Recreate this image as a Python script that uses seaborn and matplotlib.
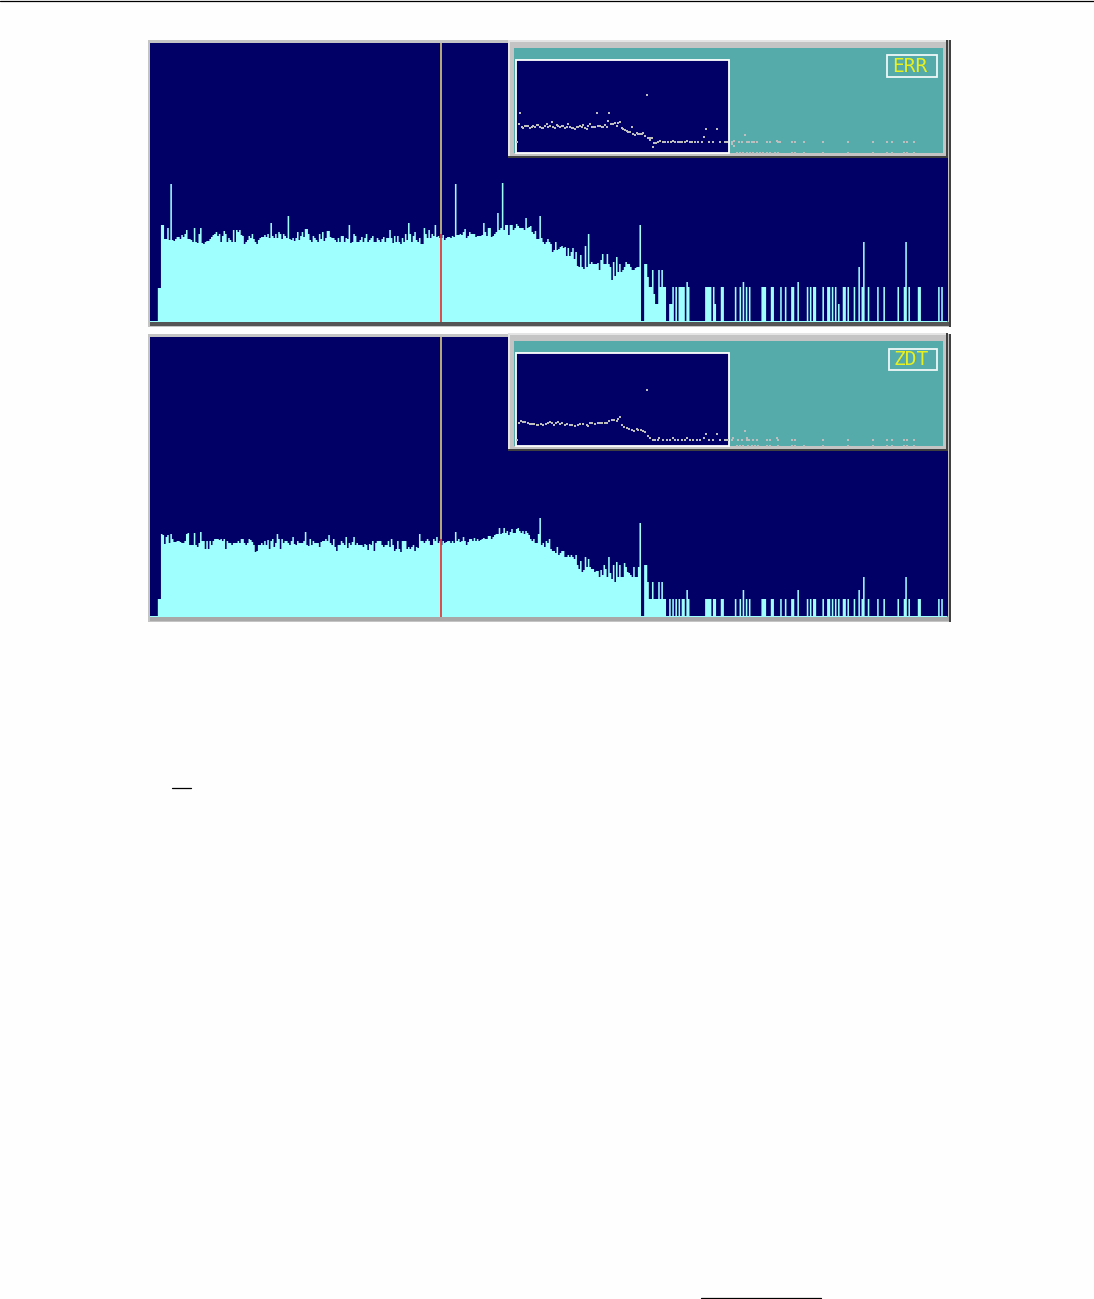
import matplotlib
matplotlib.use('Agg')
import matplotlib.pyplot as plt
from matplotlib.patches import Rectangle
import seaborn as sns
import numpy as np
import pandas as pd

W, H = 1094, 1299
N_BINS = 510
MARK_BIN = 185.6

NAVY = '#000066'
CYAN = '#9FFFFF'
TEAL = '#55AAAA'

# bar heights for bins 5.. of the top panel (ERR)
err_start = [34, 34]
err_dense = [
    97, 97, 83, 83, 94, 82, 138, 82, 81, 83,
    85, 85, 83, 87, 85, 88, 92, 83, 83, 82,
    80, 94, 80, 79, 88, 94, 79, 78, 80, 81,
    81, 83, 85, 87, 88, 90, 86, 88, 80, 86,
    91, 88, 80, 84, 82, 80, 92, 80, 92, 90,
    92, 87, 86, 78, 80, 82, 86, 84, 88, 83,
    80, 78, 82, 84, 85, 85, 87, 85, 88, 84,
    99, 86, 84, 88, 84, 90, 88, 83, 88, 86,
    84, 106, 83, 82, 84, 81, 84, 90, 82, 86,
    90, 85, 93, 93, 88, 82, 80, 86, 84, 82,
    80, 88, 83, 90, 81, 84, 91, 91, 85, 84,
    84, 82, 80, 84, 80, 86, 86, 80, 84, 83,
    97, 79, 80, 88, 86, 80, 80, 82, 85, 80,
    84, 88, 80, 82, 84, 86, 80, 80, 84, 82,
    80, 83, 85, 80, 84, 84, 92, 84, 79, 86,
    80, 86, 80, 78, 84, 80, 88, 82, 99, 88,
    80, 86, 90, 82, 80, 84, 78, 78, 94, 88,
    84, 92, 84, 88, 86, 97, 85, 86, 84, 84,
    87, 82, 84, 85, 85, 84, 86, 85, 138, 87,
    87, 88, 87, 90, 93, 84, 86, 90, 88, 88,
    88, 85, 86, 86, 86, 87, 99, 90, 86, 94,
    94, 85, 86, 88, 90, 109, 92, 94, 139, 92,
    97, 97, 87, 97, 97, 92, 94, 98, 96, 94,
    94, 94, 92, 104, 94, 95, 96, 90, 88, 91,
    83, 83, 106, 84, 80, 78, 80, 83, 80, 78,
    70, 72, 80, 72, 73, 75, 76, 74, 75, 66,
    74, 66, 70, 74, 63, 70, 56, 55, 67, 55,
    53, 76, 55, 88, 58, 60, 58, 58, 58, 59,
    52, 62, 68, 58, 58, 68, 58, 55, 42, 60,
    46, 65, 50, 58, 50, 52, 55, 60, 58, 58,
    55, 52, 52, 54, 55, 55, 97,
]
err_tail_bins = [316, 317, 318, 319, 320, 321, 322, 323, 324, 325, 326, 327, 328, 329,
                 332, 333, 334, 336, 338, 339, 340, 341, 343, 344,
                 355, 356, 357, 358, 360, 361, 365, 366, 374, 377, 379, 381, 383,
                 391, 392, 393, 397, 398, 403, 406, 410, 411, 414, 420, 422, 424, 425,
                 430, 433, 434, 436, 438, 440, 443, 444, 446, 450, 453, 455, 456, 459,
                 465, 469, 478, 482, 483, 485, 491, 492, 504, 506]
err_tail = [58, 58, 45, 35, 35, 52, 28, 18, 18, 52, 35, 52, 35, 35,
            18, 18, 35, 35, 35, 35, 35, 35, 40, 35,
            35, 35, 35, 35, 35, 18, 35, 35, 35, 35, 40, 35, 35,
            35, 35, 35, 35, 35, 35, 35, 35, 35, 40, 35, 35, 35, 35,
            35, 35, 35, 35, 35, 18, 35, 35, 35, 35, 55, 35, 80, 35,
            35, 35, 35, 35, 80, 35, 35, 35, 35, 35]

# bar heights of the bottom panel (ZDT)
zdt_start = [18, 18]
zdt_dense = [
    83, 82, 73, 80, 82, 74, 83, 78, 75, 75,
    76, 76, 75, 74, 74, 76, 83, 84, 72, 72,
    72, 84, 72, 70, 74, 85, 76, 76, 68, 76,
    68, 76, 72, 76, 78, 78, 78, 77, 78, 76,
    78, 68, 76, 74, 74, 72, 74, 74, 74, 76,
    74, 78, 78, 74, 72, 74, 78, 77, 75, 72,
    65, 66, 72, 72, 74, 72, 76, 72, 77, 68,
    76, 78, 70, 74, 83, 78, 68, 78, 74, 76,
    76, 74, 72, 76, 80, 73, 72, 76, 74, 74,
    74, 76, 85, 72, 71, 78, 72, 76, 74, 74,
    74, 70, 75, 76, 76, 78, 76, 82, 74, 72,
    78, 70, 66, 72, 72, 76, 74, 72, 80, 69,
    74, 72, 75, 80, 72, 74, 72, 72, 72, 70,
    73, 72, 67, 73, 72, 76, 66, 74, 76, 76,
    76, 72, 70, 72, 72, 76, 70, 78, 72, 66,
    68, 76, 68, 65, 76, 76, 76, 68, 70, 68,
    70, 72, 66, 70, 69, 83, 76, 76, 74, 76,
    78, 76, 72, 72, 78, 76, 80, 74, 76, 72,
    76, 74, 75, 76, 76, 74, 76, 74, 85, 76,
    78, 75, 76, 80, 76, 72, 75, 78, 78, 76,
    79, 76, 78, 76, 77, 78, 79, 78, 78, 81,
    81, 78, 80, 82, 83, 83, 89, 83, 84, 89,
    84, 86, 82, 85, 88, 84, 84, 88, 89, 86,
    84, 86, 83, 86, 84, 82, 78, 76, 78, 74,
    74, 83, 99, 72, 74, 70, 76, 74, 78, 68,
    66, 66, 64, 70, 62, 64, 66, 66, 60, 60,
    62, 60, 62, 60, 58, 62, 52, 48, 56, 45,
    47, 60, 50, 58, 50, 48, 48, 45, 46, 46,
    40, 47, 42, 52, 48, 40, 60, 44, 38, 52,
    35, 55, 40, 52, 40, 40, 54, 50, 45, 44,
    42, 40, 50, 40, 40, 50, 94,
]
zdt_tail_bins = [316, 317, 318, 319, 320, 321, 322, 323, 324, 325, 326, 327, 328, 329,
                 332, 334, 336, 338, 340, 341, 343, 344,
                 355, 356, 357, 358, 360, 361, 365, 366, 374, 377, 379, 381, 383,
                 391, 392, 393, 397, 398, 403, 406, 410, 411, 414, 420, 422, 424, 425,
                 430, 433, 434, 436, 438, 440, 443, 444, 446, 450, 453, 455, 456, 459,
                 465, 469, 478, 482, 483, 485, 491, 492, 504, 506]
zdt_tail = [52, 52, 35, 18, 18, 35, 18, 18, 18, 35, 18, 35, 18, 18,
            18, 18, 18, 18, 18, 18, 27, 18,
            18, 18, 18, 18, 18, 18, 18, 18, 18, 18, 27, 18, 18,
            18, 18, 18, 18, 18, 18, 18, 18, 18, 27, 18, 18, 18, 18,
            18, 18, 18, 18, 18, 18, 18, 18, 18, 18, 27, 18, 40, 18,
            18, 18, 18, 18, 40, 18, 18, 18, 18, 18]

# inset dots, ERR
err_dot_x = [36, 42, 46, 50, 55, 60, 65, 70, 75, 80, 85, 90, 95, 100, 105, 110, 115, 120, 125,
             130, 135, 140, 145, 150, 155, 160, 165, 170, 175, 180, 185, 190, 195, 200, 205,
             210, 215, 220, 225, 230, 235, 240, 245, 250, 255, 260, 265, 270, 275, 280, 285,
             290, 295, 300, 305, 308, 312, 318, 325, 330, 335, 340, 345, 350, 355, 360, 365,
             370, 375, 380, 385, 390, 395, 400, 405, 410, 415, 420, 425, 430, 435, 440, 435,
             443, 447, 452, 460, 465, 475, 480, 490, 497, 503, 510, 518, 525, 532, 540, 547,
             555, 560, 570, 580, 590, 597, 603, 612, 625, 636, 645, 660, 665, 680, 688,
             665, 682, 688, 702, 710, 725, 732, 740, 748, 755, 785, 795, 820, 825, 860, 870,
             898, 953, 1028, 1103, 1145, 1160, 1197, 1207, 1228, 720, 815,
             695, 705, 715, 725, 735, 745, 755, 765, 775, 785, 795, 810, 820, 860, 870, 898,
             953, 1028, 1103, 1145, 1160, 1197, 1207, 1228]
err_dot_v = [33, 88, 120, 80, 76, 83, 83, 83, 75, 78, 83, 80, 84, 84, 78, 75, 76, 81, 88,
             78, 83, 93, 78, 76, 84, 83, 78, 82, 83, 76, 80, 88, 80, 76, 75,
             73, 78, 80, 82, 78, 86, 76, 73, 82, 88, 78, 78, 78, 120, 83, 83,
             80, 78, 86, 80, 96, 120, 88, 88, 90, 83, 90, 93, 76, 73, 71, 68,
             64, 64, 78, 58, 55, 60, 58, 58, 58, 60, 53, 176, 46, 46, 46, 38,
             18, 31, 31, 33, 35, 32, 32, 32, 33, 36, 32, 32, 32, 32, 32, 35,
             32, 32, 32, 32, 32, 50, 74, 32, 32, 74, 32, 32, 32, 32, 36,
             33, 26, 20, 33, 33, 33, 33, 33, 33, 33, 33, 33, 33, 33, 33, 33,
             33, 33, 33, 33, 33, 33, 33, 33, 33, 55, 36,
             1, 1, 1, 1, 1, 1, 1, 1, 1, 1, 1, 1, 1, 1, 1, 1,
             1, 1, 1, 1, 1, 1, 1, 1]

# inset dots, ZDT
zdt_dot_x = [36, 42, 48, 55, 60, 68, 75, 80, 88, 95, 100, 108, 115, 122, 130, 135, 140, 147,
             153, 160, 165, 172, 180, 187, 195, 202, 210, 218, 225, 235, 245, 250, 255, 262,
             270, 278, 285, 292, 300, 306, 312, 320, 328, 335, 340, 345, 350, 357, 365, 372,
             380, 388, 395, 400, 408, 415, 420, 425, 430, 436, 443, 450, 458, 462, 475, 485,
             495, 503, 510, 520, 530, 540, 547, 556, 565, 575, 585, 597, 602, 612, 625, 636,
             645, 660, 670, 685,
             665, 680, 685, 700, 710, 725, 732, 745, 755, 785, 795, 820, 860, 870, 953, 1028,
             1103, 1145, 1160, 1197, 1207, 1228, 720, 685, 725, 817,
             695, 705, 715, 730, 740, 750, 760, 785, 795, 820, 860, 870, 898, 953, 1028, 1103,
             1145, 1160, 1197, 1207, 1228]
zdt_dot_v = [17, 71, 75, 73, 73, 70, 68, 67, 67, 65, 65, 67, 63, 67, 70, 73, 70, 63,
             69, 73, 67, 71, 63, 67, 65, 63, 62, 65, 67, 67, 63, 60, 69, 69,
             68, 69, 69, 69, 71, 71, 77, 78, 78, 77, 83, 88, 65, 58, 55, 53,
             50, 45, 53, 48, 49, 45, 43, 171, 30, 25, 17, 17, 17, 25, 17, 17,
             17, 25, 17, 17, 17, 17, 25, 17, 17, 17, 17, 25, 35, 17, 17, 35,
             17, 17, 17, 23,
             17, 17, 25, 17, 17, 17, 17, 17, 17, 17, 17, 17, 17, 17, 17, 17,
             17, 17, 17, 17, 17, 17, 45, 25, 25, 25,
             0, 0, 0, 0, 0, 0, 0, 0, 0, 0, 0, 0, 0, 0, 0, 0,
             0, 0, 0, 0, 0]


def build_counts(start, dense, tail_bins, tail):
    counts = np.ones(N_BINS)
    counts[5:7] = start
    counts[7:314] = dense
    counts[tail_bins] = tail
    return counts


def px_axes(fig, x0, y0, x1, y1, **kw):
    return fig.add_axes([x0 / W, 1 - y1 / H, (x1 - x0) / W, (y1 - y0) / H], **kw)


def draw_panel(fig, bg, top, bottom, counts, split, label, box, dots_x, dots_v, inset_y, base_col):
    bg.add_patch(Rectangle((148, top - 3), 803, bottom - top + 8, color='#404040', lw=0))
    bg.add_patch(Rectangle((148, top - 3), 801, bottom - top + 8, color='#C4C4C4', lw=0))
    bg.add_patch(Rectangle((150, bottom), 799, 4, color=base_col, lw=0))

    ax = px_axes(fig, 150, top, 947.5, bottom, facecolor=NAVY, zorder=2)
    ax.add_patch(Rectangle((0, 0), 1, 1, transform=ax.transAxes, color=NAVY, lw=0, zorder=0))

    # filler under the seams between neighbouring bars
    seams = np.minimum(counts[:-1], counts[1:])
    ax.bar(np.arange(N_BINS - 1) + 0.5, seams, width=1, color=CYAN, linewidth=0, zorder=1)

    sns.barplot(x=np.arange(N_BINS), y=counts, color=CYAN, saturation=1, width=1,
                linewidth=0, native_scale=True, ax=ax, zorder=2)
    # soft edges like the screenshot, no snapping to whole pixels
    for p in ax.patches[N_BINS:]:
        p.set_snap(False)
    ax.set_xlim(-0.5, N_BINS - 0.5)
    ax.set_ylim(0, bottom - top)
    ax.plot([MARK_BIN, MARK_BIN], [split, bottom - top], color='#C8B878', lw=1.3, solid_capstyle='butt', zorder=3)
    ax.plot([MARK_BIN, MARK_BIN], [0, split], color='#E43C3C', lw=1.3, solid_capstyle='butt', zorder=3)
    ax.set_axis_off()

    # inset: frame, teal area, dark plot, dots
    y0, y1 = inset_y
    over = px_axes(fig, 0, 0, W, H, zorder=3)
    over.set_xlim(0, W)
    over.set_ylim(H, 0)
    over.set_axis_off()
    over.add_patch(Rectangle((508, y0 - 20), 440, y1 - y0 + 25, color='#404040', lw=0))
    over.add_patch(Rectangle((508, y0 - 20), 438, y1 - y0 + 23, color='#C4C4C4', lw=0))
    over.add_patch(Rectangle((508, y0 - 20), 438, 2, color='#E4E4E4', lw=0))
    over.add_patch(Rectangle((508, y0 - 20), 2, y1 - y0 + 23, color='#E4E4E4', lw=0))
    over.add_patch(Rectangle((514, y0 - 12), 429, y1 - y0 + 12, color=TEAL, lw=0))
    over.add_patch(Rectangle((515.5, y0), 213, y1 - y0, facecolor=NAVY, edgecolor='white', lw=1.3))
    over.add_patch(Rectangle((box[0], box[1]), box[2] - box[0], box[3] - box[1],
                             facecolor='none', edgecolor='#F0F8F8', lw=1.3))
    over.text((box[0] + box[2]) / 2 - 2, (box[1] + box[3]) / 2 + 0.5, label, color='#E8F020',
              family='DejaVu Sans Mono', fontsize=14, ha='center', va='center')

    dot_ax = px_axes(fig, 515, y0, 945, y1, zorder=4)
    df = pd.DataFrame({'x': dots_x, 'v': dots_v})
    sns.scatterplot(data=df, x='x', y='v', marker='s', s=1.8, color='#BEBEBE',
                    linewidth=0, ax=dot_ax, clip_on=False)
    dot_ax.set_xlim(30, 1320)
    dot_ax.set_ylim(0, 282)
    dot_ax.set_axis_off()


def main():
    sns.set_theme(style='white')
    fig = plt.figure(figsize=(W / 100, H / 100), dpi=100, facecolor='#FEFEFE')
    bg = px_axes(fig, 0, 0, W, H, zorder=1)
    bg.set_xlim(0, W)
    bg.set_ylim(H, 0)
    bg.set_axis_off()

    # rules elsewhere on the page
    bg.plot([0, W], [0.5, 0.5], color='black', lw=0.9)
    bg.plot([172, 191], [787.5, 787.5], color='black', lw=0.9)
    bg.plot([701, 821], [1297.5, 1297.5], color='black', lw=0.9)

    err = build_counts(err_start, err_dense, err_tail_bins, err_tail)
    zdt = build_counts(zdt_start, zdt_dense, zdt_tail_bins, zdt_tail)
    draw_panel(fig, bg, 43, 322, err, 88, 'ERR', (887, 55, 937, 76.5), err_dot_x, err_dot_v, (60, 153), '#555555')
    draw_panel(fig, bg, 337, 617, zdt, 78, 'ZDT', (888.5, 348.5, 937, 370), zdt_dot_x, zdt_dot_v, (353, 446), '#A8A8A8')

    fig.savefig('out.png', dpi=100, facecolor=fig.get_facecolor())


main()
